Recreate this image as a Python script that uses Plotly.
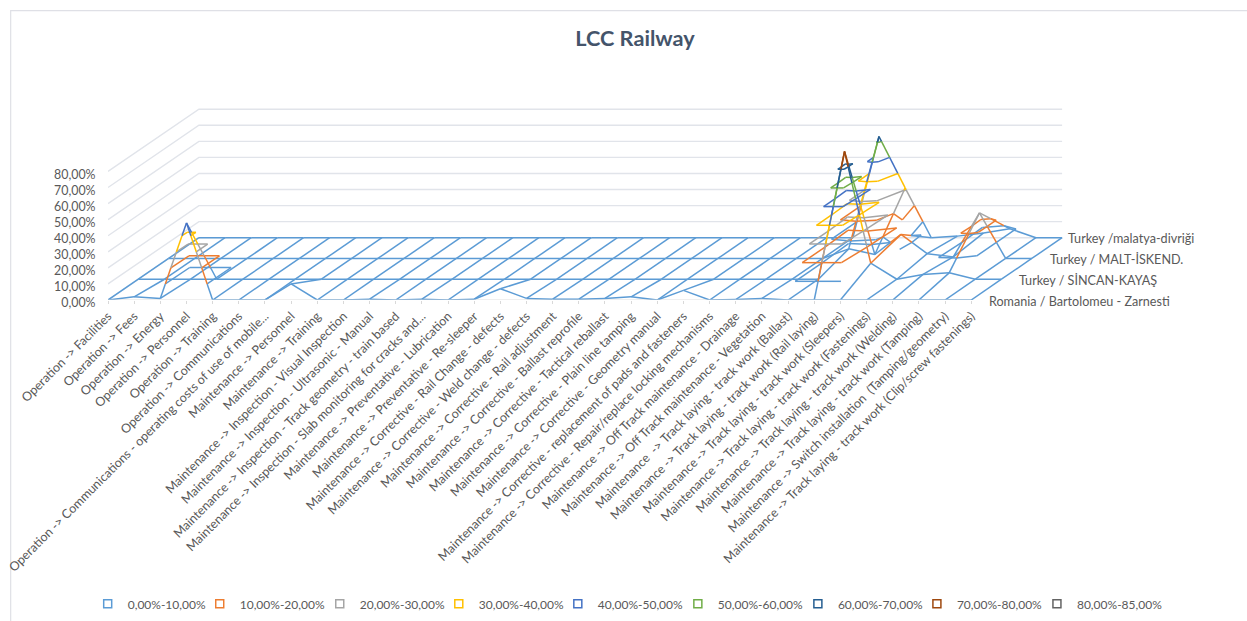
import plotly.graph_objects as go

TITLE = "LCC Railway"
categories = [
    "Operation -> Facilities", "Operation -> Fees", "Operation -> Energy", "Operation -> Personnel",
    "Operation -> Training", "Operation -> Communications",
    "Operation -> Communications - operating costs of use of mobile...",
    "Maintenance -> Personnel", "Maintenance -> Training",
    "Maintenance -> Inspection - Visual Inspection", "Maintenance -> Inspection - Ultrasonic - Manual",
    "Maintenance -> Inspection - Track geometry - train based",
    "Maintenance -> Inspection - Slab monitoring for cracks and...",
    "Maintenance -> Preventative - Lubrication", "Maintenance -> Preventative - Re-sleeper",
    "Maintenance -> Corrective - Rail Change - defects", "Maintenance -> Corrective - Weld change - defects",
    "Maintenance -> Corrective - Rail adjustment", "Maintenance -> Corrective - Ballast reprofile",
    "Maintenance -> Corrective - Tactical reballast", "Maintenance -> Corrective - Plain line tamping",
    "Maintenance -> Corrective - Geometry manual",
    "Maintenance -> Corrective - replacement of pads and fasteners",
    "Maintenance -> Corrective - Repair/replace locking mechanisms",
    "Maintenance -> Off Track maintenance - Drainage", "Maintenance -> Off Track maintenance - Vegetation",
    "Maintenance  -> Track laying - track work (Ballast)", "Maintenance -> Track laying - track work (Rail laying)",
    "Maintenance -> Track laying - track work (Sleepers)", "Maintenance -> Track laying - track work (Fastenings)",
    "Maintenance -> Track laying - track work (Welding)", "Maintenance -> Track laying - track work (Tamping)",
    "Maintenance -> Switch installation  (Tamping/geometry)",
    "Maintenance -> Track laying - track work (Clip/screw fastenings)",
]
series_names = ["Romania / Bartolomeu - Zarnesti", "Turkey / SİNCAN-KAYAŞ", "Turkey / MALT-İSKEND.", "Turkey /malatya-divriği"]
romania = [0, 2, 1, 48, 0, 0, 0, 10, 0, 0, 0.5, 0, 0.5, 0, 0.5, 7, 1, 0.5, 0.5, 1, 2, 0, 6, 0, 0.3, 1, 0, 0, 0, 0, 0, 0, 0, 0]
sincan = [0]*26 + [0, 79.5, 10, 0, 3, 4, 0, 0]
malt = [0]*26 + [6, 2.5, 15, 3, 1, 28.4, 0, 0]
malatya = [0]*26 + [63, 31, 0, 1, 3, 5.6, 0, 0]
surface = [romania, sincan, malt, malatya]
band_names = ["0,00%-10,00%", "10,00%-20,00%", "20,00%-30,00%", "30,00%-40,00%", "40,00%-50,00%",
              "50,00%-60,00%", "60,00%-70,00%", "70,00%-80,00%", "80,00%-85,00%"]
band_colors = ["#5B9BD5", "#ED7D31", "#A5A5A5", "#FFC000", "#4472C4", "#70AD47", "#255E91", "#9E480E", "#636363"]
z_ticks = [0, 10, 20, 30, 40, 50, 60, 70, 80]
z_labels = ["0,00%", "10,00%", "20,00%", "30,00%", "40,00%", "50,00%", "60,00%", "70,00%", "80,00%"]

# oblique projection: one depth step moves the surface right and up
PX_X, PX_Y = 26.15, 1.61
DEPTH_X, DEPTH_Y = 30.3 / PX_X, 20.8 / PX_Y
W, H = 1247, 621
ML, MT, MB, MR = 108.3, 60, 320.5, 0
XMAX = (W - ML - MR) / PX_X
YMAX = (H - MT - MB) / PX_Y

def proj(i, k, z):
    return i + k * DEPTH_X, z + k * DEPTH_Y

N, D = len(categories), len(surface)
xs = [[] for _ in band_colors]
ys = [[] for _ in band_colors]

def add(b, p, q):
    xs[b] += [p[0], q[0], None]
    ys[b] += [p[1], q[1], None]

def wire(a, b):
    # a, b = (i, k, z): split at every band edge so each piece gets its band colour
    if a[2] > b[2]:
        a, b = b, a
    lo, hi = a[2], b[2]
    if hi == lo:
        add(min(int(lo // 10), 8), proj(*a), proj(*b))
        return
    cuts = [lo] + [l for l in range(10, 90, 10) if lo < l < hi] + [hi]
    for c0, c1 in zip(cuts, cuts[1:]):
        t0, t1 = (c0 - lo) / (hi - lo), (c1 - lo) / (hi - lo)
        p = [a[n] + (b[n] - a[n]) * t0 for n in range(3)]
        q = [a[n] + (b[n] - a[n]) * t1 for n in range(3)]
        add(min(int(((c0 + c1) / 2) // 10), 8), proj(*p), proj(*q))

def tri_contours(tri):
    for l in range(10, 90, 10):
        pts = []
        for u, v in ((0, 1), (1, 2), (2, 0)):
            a, b = tri[u], tri[v]
            if (a[2] - l) * (b[2] - l) < 0:
                t = (l - a[2]) / (b[2] - a[2])
                pts.append((a[0] + (b[0] - a[0]) * t, a[1] + (b[1] - a[1]) * t, l))
        if len(pts) == 2:
            add(l // 10 - 1, proj(*pts[0]), proj(*pts[1]))

for k in range(D):
    for i in range(N):
        p = (i, k, surface[k][i])
        if i + 1 < N:
            wire(p, (i + 1, k, surface[k][i + 1]))
        if k + 1 < D:
            wire(p, (i, k + 1, surface[k + 1][i]))
        if i + 1 < N and k + 1 < D:
            a, b = p, (i + 1, k, surface[k][i + 1])
            c, d = (i + 1, k + 1, surface[k + 1][i + 1]), (i, k + 1, surface[k + 1][i])
            # split the cell along the diagonal through its highest corner
            if max(a[2], c[2]) >= max(b[2], d[2]):
                tris = [(a, b, c), (a, c, d)]
            else:
                tris = [(a, b, d), (b, c, d)]
            for t in tris:
                tri_contours(t)

GRID = "#E1E4EA"
fig = go.Figure()
# walls
wx, wy = [], []
for z in z_ticks:
    a, b, c = proj(0, 0, z), proj(0, D - 1, z), proj(N - 1, D - 1, z)
    wx += [a[0], b[0], c[0], None]
    wy += [a[1], b[1], c[1], None]
fig.add_trace(go.Scatter(x=wx, y=wy, mode="lines", line=dict(color=GRID, width=1.4), showlegend=False, hoverinfo="skip"))
for b, col in enumerate(band_colors):
    if xs[b]:
        fig.add_trace(go.Scatter(x=xs[b], y=ys[b], mode="lines", line=dict(color=col, width=1.5),
                                 showlegend=False, hoverinfo="skip", cliponaxis=False))
# x axis line
fig.add_trace(go.Scatter(x=[0, N - 1], y=[0, 0], mode="lines", line=dict(color="rgba(217,217,217,0.55)", width=1.5),
                         showlegend=False, hoverinfo="skip", cliponaxis=False))
for n, (name, col) in enumerate(zip(band_names, band_colors)):
    fig.add_trace(go.Scatter(x=[None], y=[None], mode="markers", name=name,
                             legend="legend" if n == 0 else f"legend{n + 1}",
                             marker=dict(symbol="square-open", size=8, color=col, line=dict(color=col, width=1.5))))

FONT = "Lato, Carlito, Calibri, sans-serif"
annots = []
for k, (nm, shift) in enumerate(zip(series_names, [16, 16, 16, 4])):
    x, y = proj(N - 1, k, 0)
    annots.append(dict(x=x, y=y, text=nm, showarrow=False, xanchor="left", yanchor="middle",
                       xshift=shift, yshift=-1, font=dict(family=FONT, size=12.6, color="#595959")))

PW, PH = W - ML - MR, H - MT - MB
LEG_Y = -(605 - (H - MB)) / PH
LEG_FONT = dict(family=FONT, size=12, color="#595959")
legend_text_px = [128, 240, 360, 479, 598, 718, 838, 957, 1077]
legends = {}
for n, px in enumerate(legend_text_px):
    legends["legend" if n == 0 else f"legend{n + 1}"] = dict(
        orientation="h", x=(px - 40 - ML) / PW, xanchor="left", y=LEG_Y, yanchor="middle",
        font=LEG_FONT, bgcolor="rgba(0,0,0,0)", itemclick=False, itemdoubleclick=False)

fig.update_layout(
    width=W, height=H, template="none", paper_bgcolor="white", plot_bgcolor="white",
    margin=dict(l=ML, r=MR, t=MT, b=MB, pad=0, autoexpand=False),
    title=dict(text="<b>" + TITLE + "</b>", x=635 / W, xanchor="center", y=1 - 38 / H, yanchor="middle",
               font=dict(family=FONT, size=21.7, color="#44546A")),
    xaxis=dict(range=[0, XMAX], tickmode="array", tickvals=list(range(N)), ticktext=categories, tickangle=-45,
               showgrid=False, zeroline=False, showline=False, ticks="outside", ticklen=3, tickcolor="#D9D9D9",
               ticklabeloverflow="allow",
               tickfont=dict(family=FONT, size=12.5, color="#595959"), automargin=False),
    yaxis=dict(range=[0, YMAX], tickmode="array", tickvals=z_ticks, ticktext=z_labels, showgrid=False,
               zeroline=False, showline=False, ticks="outside", ticklen=9, tickcolor="rgba(0,0,0,0)",
               ticklabelshift=3,
               tickfont=dict(family=FONT, size=12.4, color="#595959"), automargin=False),
    annotations=annots,
    shapes=[dict(type="rect", xref="paper", yref="paper", x0=(11 - ML) / PW, x1=(1280 - ML) / PW,
                 y0=-(660 - (H - MB)) / PH, y1=(H - MB - 10.5) / PH, line=dict(color="#DFE0E6", width=1.2), layer="below")],
    hovermode=False,
    **legends,
)
fig.write_html("out.html", config={"displayModeBar": False},
               post_script="document.body.style.margin='0';document.body.style.overflow='hidden';")
